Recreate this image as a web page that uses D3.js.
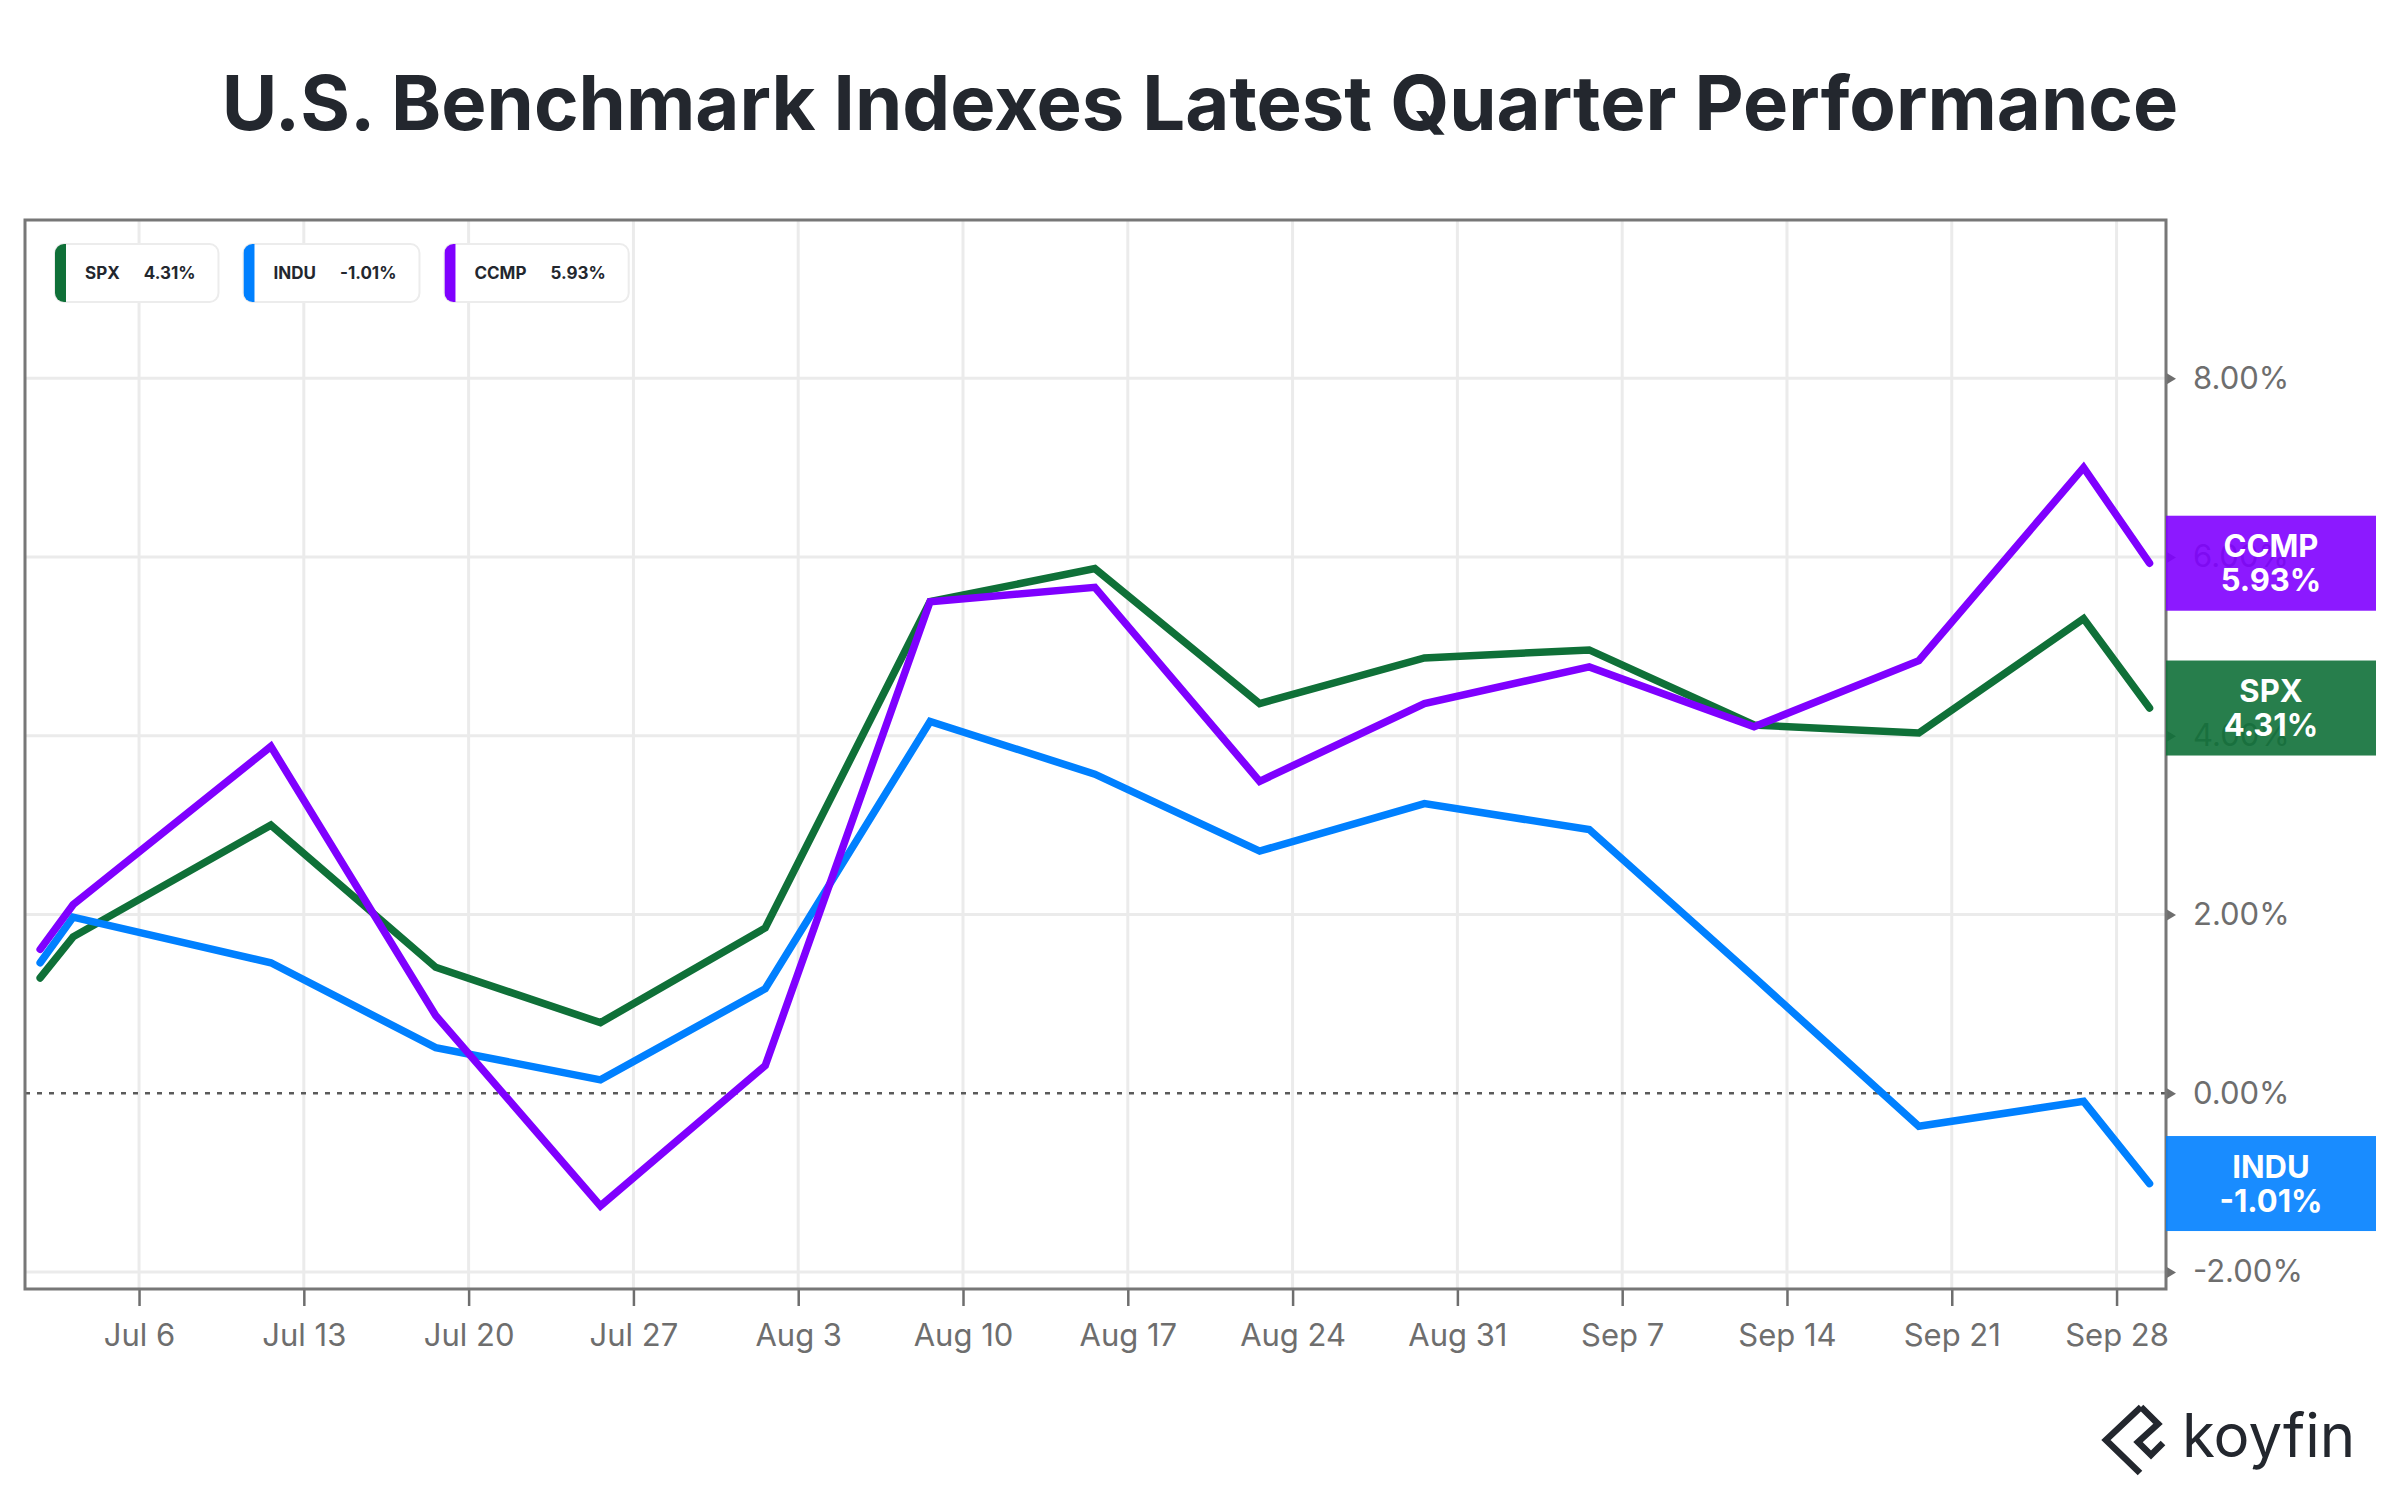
<!DOCTYPE html>
<html>
<head>
<meta charset="utf-8">
<script src="https://cdn.jsdelivr.net/npm/d3@7"></script>
<style>
  body { margin: 0; background: #fff; }
  svg { display: block; font-family: Inter, "Noto Sans", sans-serif; }
</style>
</head>
<body>
<svg id="chart" width="2400" height="1500"></svg>
<script>
// weekly closes, % change in the quarter
const dates = ["2020-07-01","2020-07-02","2020-07-10","2020-07-17","2020-07-24","2020-07-31",
  "2020-08-07","2020-08-14","2020-08-21","2020-08-28","2020-09-04","2020-09-11",
  "2020-09-18","2020-09-25","2020-09-29"];
const spx  = [1.29, 1.75, 3.00, 1.41, 0.79, 1.85, 5.50, 5.87, 4.36, 4.87, 4.96, 4.12, 4.03, 5.31, 4.31];
const indu = [1.46, 1.97, 1.46, 0.51, 0.15, 1.17, 4.16, 3.57, 2.71, 3.24, 2.95, 1.30, -0.37, -0.09, -1.01];
const ccmp = [1.61, 2.11, 3.88, 0.87, -1.26, 0.31, 5.50, 5.66, 3.49, 4.36, 4.77, 4.10, 4.84, 7.00, 5.93];

const names  = ["SPX", "INDU", "CCMP"];
const values = [spx, indu, ccmp];
const colors = ["#0f7038", "#0080ff", "#7f00ff"];

const tickDates = ["2020-07-06","2020-07-13","2020-07-20","2020-07-27","2020-08-03","2020-08-10",
  "2020-08-17","2020-08-24","2020-08-31","2020-09-07","2020-09-14","2020-09-21","2020-09-28"];
const yTicks = [-2, 0, 2, 4, 6, 8];

const parse = d3.timeParse("%Y-%m-%d");
const base = parse("2020-07-06");
// position on a weekday axis (weekends skipped)
function wd(s) {
    const days = d3.timeDay.count(base, parse(s));
    const w = Math.floor(days / 7);
    const r = days - w * 7;
    return w * 5 + Math.min(r, 5);
}
const pct = d => d3.format(".2f")(d).replace("\u2212", "-") + "%";

const frame = {left: 25, top: 220, right: 2166, bottom: 1289};
const svg = d3.select("#chart");

const x = d3.scaleLinear()
    .domain([wd(dates[0]) - 0.46, wd(dates[dates.length - 1]) + 0.5])
    .range([frame.left, frame.right]);
const y = d3.scaleLinear()
    .domain([-2.19, 9.77])
    .range([frame.bottom, frame.top]);

// title
svg.append("text")
    .attr("x", 1200).attr("y", 130)
    .attr("text-anchor", "middle")
    .attr("font-size", 76).attr("font-weight", 700)
    .attr("fill", "#23272e")
    .text("U.S. Benchmark Indexes Latest Quarter Performance");

// grid
const grid = svg.append("g");
grid.selectAll(".vg").data(tickDates).join("line")
    .attr("x1", d => x(wd(d))).attr("x2", d => x(wd(d)))
    .attr("y1", frame.top).attr("y2", frame.bottom)
    .attr("stroke", "#ebebeb").attr("stroke-width", 3);
grid.selectAll(".hg").data(yTicks.filter(v => v !== 0)).join("line")
    .attr("x1", frame.left).attr("x2", frame.right)
    .attr("y1", d => y(d)).attr("y2", d => y(d))
    .attr("stroke", "#ebebeb").attr("stroke-width", 3);
grid.append("line")
    .attr("x1", frame.left).attr("x2", frame.right)
    .attr("y1", y(0)).attr("y2", y(0))
    .attr("stroke", "#5a5a5a").attr("stroke-width", 2.5)
    .attr("stroke-dasharray", "5,7");

// x axis
const xAxis = d3.axisBottom(x)
    .tickValues(tickDates.map(wd))
    .tickFormat((d, i) => d3.timeFormat("%b %-d")(parse(tickDates[i])))
    .tickSize(17).tickPadding(18);
const gx = svg.append("g")
    .attr("transform", `translate(0,${frame.bottom})`)
    .call(xAxis);
gx.select(".domain").remove();
gx.selectAll("line").attr("stroke", "#6e6e6e").attr("stroke-width", 2.5);
gx.selectAll("text").attr("font-size", 31).attr("fill", "#6e6e6e")
    .attr("font-family", "Inter, sans-serif");

// y axis on the right
const yAxis = d3.axisRight(y)
    .tickValues(yTicks)
    .tickFormat(pct)
    .tickSize(0).tickPadding(27);
const gy = svg.append("g")
    .attr("transform", `translate(${frame.right},0)`)
    .call(yAxis);
gy.select(".domain").remove();
gy.selectAll("text").attr("font-size", 31).attr("fill", "#6e6e6e")
    .attr("font-family", "Inter, sans-serif");
gy.selectAll(".tick").append("path")
    .attr("d", "M0,-6L10,0L0,6Z").attr("fill", "#6e6e6e");

// frame
svg.append("path")
    .attr("d", `M${frame.left},${frame.top}H${frame.right}V${frame.bottom}H${frame.left}Z`)
    .attr("fill", "none").attr("stroke", "#777").attr("stroke-width", 3);

// lines
const line = d3.line()
    .x((d, i) => x(wd(dates[i])))
    .y(d => y(d));
svg.append("g").selectAll("path").data(values).join("path")
    .attr("d", line)
    .attr("fill", "none")
    .attr("stroke", (d, i) => colors[i])
    .attr("stroke-width", 7.5)
    .attr("stroke-linecap", "round")
    .attr("stroke-linejoin", "miter");

// last-value tags (drawn over the axis labels, as in the original)
const tags = svg.append("g");
values.forEach((v, i) => {
    const last = v[v.length - 1];
    const cy = y(last);
    const t = tags.append("g");
    t.append("rect")
        .attr("x", frame.right).attr("y", cy - 47.5)
        .attr("width", 210).attr("height", 95)
        .attr("fill", colors[i]).attr("fill-opacity", 0.9);
    t.append("text")
        .attr("x", frame.right + 105).attr("y", cy - 6)
        .attr("text-anchor", "middle").attr("font-size", 31).attr("font-weight", 700)
        .attr("fill", "#fff").text(names[i]);
    t.append("text")
        .attr("x", frame.right + 105).attr("y", cy + 28)
        .attr("text-anchor", "middle").attr("font-size", 31).attr("font-weight", 700)
        .attr("fill", "#fff").text(pct(last));
});

// legend
const legend = svg.append("g");
let lx = 55;
values.forEach((v, i) => {
    const g = legend.append("g");
    const name = g.append("text")
        .attr("x", lx + 30).attr("y", 279)
        .attr("font-size", 17).attr("font-weight", 700).attr("fill", "#23272e")
        .text(names[i]);
    const vx = lx + 30 + name.node().getComputedTextLength() + 24;
    const val = g.append("text")
        .attr("x", vx).attr("y", 279)
        .attr("font-size", 17).attr("font-weight", 700).attr("fill", "#23272e")
        .text(pct(v[v.length - 1]));
    const w = vx + val.node().getComputedTextLength() + 23 - lx;
    svg.append("clipPath").attr("id", "lc" + i)
        .append("rect").attr("x", lx).attr("y", 244).attr("width", w).attr("height", 58).attr("rx", 9);
    g.insert("rect", "text")
        .attr("x", lx).attr("y", 244).attr("width", w).attr("height", 58).attr("rx", 9)
        .attr("fill", "#fff").attr("stroke", "#ececec").attr("stroke-width", 2);
    g.insert("rect", "text")
        .attr("x", lx).attr("y", 244).attr("width", 11).attr("height", 58)
        .attr("fill", colors[i]).attr("clip-path", `url(#lc${i})`);
    lx += w + 25;
});

// koyfin mark
const logo = svg.append("g");
logo.append("path")
    .attr("d", "M2141,1407L2106,1440L2140,1473")
    .attr("fill", "none").attr("stroke", "#23272e").attr("stroke-width", 6.5);
logo.append("path")
    .attr("d", "M2141,1407L2158,1424L2138,1442L2151,1455L2163,1443")
    .attr("fill", "none").attr("stroke", "#23272e").attr("stroke-width", 6.5);
logo.append("text")
    .attr("x", 2182).attr("y", 1457)
    .attr("font-size", 60).attr("font-weight", 400).attr("fill", "#23272e")
    .text("koyfin");
</script>
</body>
</html>
